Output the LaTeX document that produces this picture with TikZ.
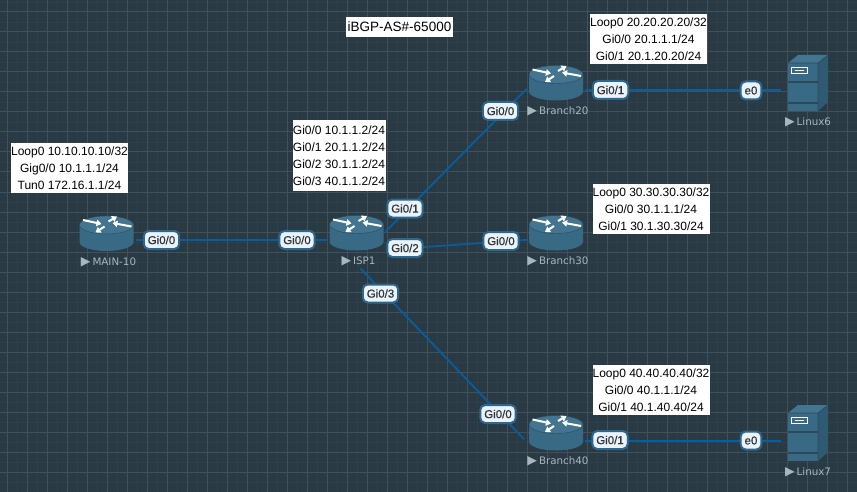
\documentclass[tikz,border=0pt]{standalone}
\usepackage{fontspec}
\setmainfont{Liberation Sans}
\newfontfamily\namefont{DejaVu Sans}
\newfontfamily\badgefont[FakeBold=0.5]{Liberation Sans}
\usetikzlibrary{arrows.meta}
\definecolor{canvas}{HTML}{2A3A44}
\definecolor{gridmajor}{HTML}{41515B}
\definecolor{gridminor}{HTML}{303F49}
\definecolor{linkblue}{HTML}{065E9E}
\definecolor{icontop}{HTML}{437590}
\definecolor{iconside}{HTML}{386A85}
\definecolor{iconedge}{HTML}{2A4A5C}
\definecolor{badgefill}{HTML}{E8F3FC}
\definecolor{badgeedge}{HTML}{2F678C}
\definecolor{namegray}{HTML}{A8B6BE}
\tikzset{
  link/.style={linkblue,line width=1.8pt},
  routerbox/.style={minimum width=58pt,minimum height=36pt,inner sep=0pt},
  serverbox/.style={minimum width=47pt,minimum height=56pt,inner sep=0pt},
  badge/.style={draw=badgeedge,fill=badgefill,line width=2pt,rounded corners=5pt,
    minimum height=18pt,inner sep=0pt,inner xsep=4pt,text=black!80,
    font=\badgefont\fontsize{11.5}{12}\selectfont},
  infobox/.style={fill=white,text=black,align=center,inner sep=0pt,
    font=\fontsize{12}{17}\selectfont},
  devname/.style={text=namegray,inner sep=0pt,font=\namefont\fontsize{10.3}{12}\selectfont},
  routerarrow/.style={white,line width=2pt,-{Triangle[length=5pt,width=6.5pt]}},
  routericon/.pic={
    \fill[iconside] (-27,0) -- (-27,17) arc[start angle=180,end angle=360,x radius=27pt,y radius=9pt]
      -- (27,0) -- cycle;
    \fill[icontop,draw=iconedge,line width=0.4pt] (0,0) ellipse (27pt and 9pt);
    \draw[routerarrow] (-23.5,-5)--(-5,-1);
    \draw[routerarrow] (2,-3.5)--(10.5,-8.5);
    \draw[routerarrow] (25,1.5)--(6,-2);
    \draw[routerarrow] (-2,1.5)--(-11,7.5);
  },
  servericon/.pic={
    \fill[iconside!85!black] (30,8) -- (40,0) -- (40,47) -- (30,56) -- cycle;
    \fill[icontop] (0,8) -- (10,0) -- (40,0) -- (30,8) -- cycle;
    \fill[iconside] (0,8) rectangle (30,56);
    \draw[iconedge,line width=0.6pt] (30,8) -- (30,56) (0,8) -- (30,8) -- (40,0);
    \draw[iconedge,line width=1.2pt] (0,27) -- (30,27) (0,48) -- (30,48);
    \draw[white,line width=0.9pt] (3.5,12.5) rectangle (19,18.5);
    \draw[white,line width=0.9pt] (7,15.5) -- (15.5,15.5);
  },
}
\begin{document}
\begin{tikzpicture}[x=1pt,y=-1pt]
  \useasboundingbox (0,0) rectangle (857,492);
  \fill[canvas] (0,0) rectangle (857,492);
  \foreach \x in {17,37,...,857}{\draw[gridminor,line width=0.8pt] (\x,0)--(\x,492);}
  \foreach \y in {2,22,...,492}{\draw[gridminor,line width=0.8pt] (0,\y)--(857,\y);}
  \foreach \x in {7,27,...,857}{\draw[gridmajor,line width=1pt] (\x,0)--(\x,492);}
  \foreach \y in {12,32,...,492}{\draw[gridmajor,line width=1pt] (0,\y)--(857,\y);}

  % routers
  \foreach \n/\x/\y/\t in {main/106.5/225/MAIN-10,isp/356.5/224.5/ISP1,
      branch20/556/74.5/Branch20,branch30/556/224.5/Branch30,branch40/556/424.5/Branch40}{
    \node[routerbox] (\n) at (\x,\y+7) {};
    \node[devname,anchor=north] (\n-name) at (\x+2,\y+32) {{\fontsize{12.5}{12}\selectfont ▶}\hspace{2pt}\t};
  }
  % servers
  \foreach \n/\y/\t in {linux6/55/Linux6,linux7/405/Linux7}{
    \node[serverbox] (\n) at (804.5,\y+28) {};
    \node[devname,anchor=north] (\n-name) at (808,\y+62) {{\fontsize{12.5}{12}\selectfont ▶}\hspace{2pt}\t};
  }

  % links
  \draw[link] (main.-16) -- (main.-16 -| isp.west);
  \draw[link] (isp.east) -- (branch20.194);
  \draw[link] (isp.south east) -- (branch30.196);
  \draw[link,shorten <=3pt,shorten >=4pt] (isp-name.south) -- (branch40.200);
  \draw[link] (branch20.-16) -- (branch20.-16 -| linux6.west);
  \draw[link] (branch40.-18) -- (branch40.-18 -| linux7.west);

  \foreach \x/\y in {106.5/225,356.5/224.5,556/74.5,556/224.5,556/424.5}{
    \pic at (\x,\y) {routericon};
  }
  \pic at (788,55) {servericon};
  \pic at (788,405) {servericon};

  % interface labels
  \node[badge] (main-g0) at (161.5,240) {Gi0/0};
  \node[badge] (isp-g0) at (297,240) {Gi0/0};
  \node[badge] (isp-g1) at (405,208.5) {Gi0/1};
  \node[badge] (isp-g2) at (405,248) {Gi0/2};
  \node[badge] (isp-g3) at (380.5,293.5) {Gi0/3};
  \node[badge] (b20-g0) at (500.5,111) {Gi0/0};
  \node[badge] (b20-g1) at (610.5,90) {Gi0/1};
  \node[badge] (l6-e0) at (751,90.5) {e0};
  \node[badge] (b30-g0) at (501,241) {Gi0/0};
  \node[badge] (b40-g0) at (498,414) {Gi0/0};
  \node[badge] (b40-g1) at (610,440) {Gi0/1};
  \node[badge] (l7-e0) at (751,440.5) {e0};

  % address tables
  \node[infobox,minimum width=107pt,minimum height=20pt,font=\fontsize{13.5}{16}\selectfont] (title) at (399.5,27) {iBGP-AS\#-65000};
  \node[infobox,minimum width=117pt,minimum height=50pt] (main-info) at (69.5,168) {Loop0 10.10.10.10/32\\Gig0/0 10.1.1.1/24\\Tun0 172.16.1.1/24};
  \node[infobox,minimum width=93pt,minimum height=71pt] (isp-info) at (339,155.5) {Gi0/0 10.1.1.2/24\\Gi0/1 20.1.1.2/24\\Gi0/2 30.1.1.2/24\\Gi0/3 40.1.1.2/24};
  \node[infobox,minimum width=117pt,minimum height=50pt] (b20-info) at (648.5,39) {Loop0 20.20.20.20/32\\Gi0/0 20.1.1.1/24\\Gi0/1 20.1.20.20/24};
  \node[infobox,minimum width=117pt,minimum height=50pt] (b30-info) at (651,209) {Loop0 30.30.30.30/32\\Gi0/0 30.1.1.1/24\\Gi0/1 30.1.30.30/24};
  \node[infobox,minimum width=117pt,minimum height=50pt] (b40-info) at (651,390) {Loop0 40.40.40.40/32\\Gi0/0 40.1.1.1/24\\Gi0/1 40.1.40.40/24};
\end{tikzpicture}
\end{document}
